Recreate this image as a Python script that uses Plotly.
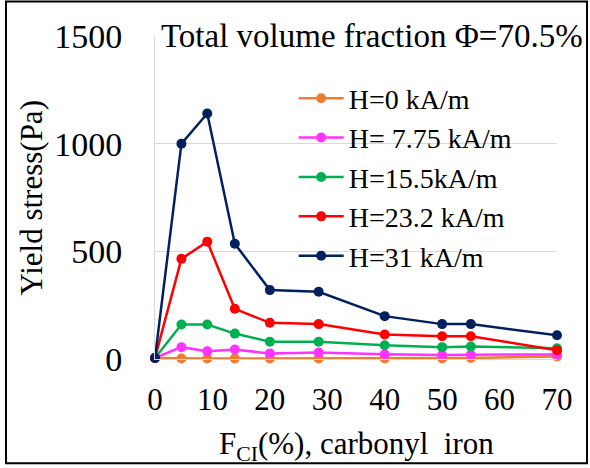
import plotly.graph_objects as go

# carbonyl iron fraction F_CI (%)
fci = [0, 4.6, 9.1, 13.9, 20, 28.5, 40, 50, 55, 70]

h0 = [5, 2, 2, 2, 2, 2, 3, 3, 5, 12]
h775 = [5, 55, 36, 44, 26, 30, 22, 18, 20, 21]
h155 = [5, 160, 160, 118, 80, 80, 64, 55, 58, 50]
h232 = [5, 465, 545, 233, 168, 162, 114, 106, 106, 41]
h31 = [5, 1000, 1140, 535, 320, 312, 199, 162, 162, 110]

series = [
    ("H=0 kA/m", h0, "#ED7D31"),
    ("H= 7.75 kA/m", h775, "#FF33FF"),
    ("H=15.5kA/m", h155, "#00B050"),
    ("H=23.2 kA/m", h232, "#FF0000"),
    ("H=31 kA/m", h31, "#002060"),
]

FONT = "Liberation Serif"

fig = go.Figure()
for name, vals, color in series:
    fig.add_trace(go.Scatter(
        x=fci, y=vals, mode="lines+markers", name=name,
        line=dict(color=color, width=2.5),
        marker=dict(color=color, size=10),
        cliponaxis=False,
    ))

fig.update_layout(
    width=590, height=468,
    margin=dict(l=155, r=33, t=36, b=108.5),
    paper_bgcolor="white", plot_bgcolor="white",
    font=dict(family=FONT, size=31, color="black"),
    showlegend=True,
    legend=dict(
        x=0.345, y=0.884, xanchor="left", yanchor="top",
        bgcolor="rgba(0,0,0,0)", font=dict(family=FONT, size=28),
        itemwidth=45, tracegroupgap=0,
    ),
    xaxis=dict(
        range=[0, 70], tickvals=[0, 10, 20, 30, 40, 50, 60, 70],
        showgrid=False, zeroline=False,
        showline=True, linecolor="#d9d9d9", linewidth=1,
        ticks="", ticklabelstandoff=13,
        tickfont=dict(family=FONT, size=31),
    ),
    yaxis=dict(
        range=[0, 1500], tickvals=[0, 500, 1000, 1500],
        showgrid=True, gridcolor="#d9d9d9", gridwidth=1,
        zeroline=False,
        showline=True, linecolor="#d9d9d9", linewidth=1,
        ticks="", ticklabelstandoff=25,
        tickfont=dict(family=FONT, size=34),
    ),
    annotations=[
        dict(text="Total volume fraction \u03a6=70.5%", xref="paper", yref="paper",
             x=0.012, y=1.0, xanchor="left", yanchor="middle", showarrow=False,
             bgcolor="white", font=dict(size=33), borderpad=0),
        dict(text="Yield stress(Pa)", xref="paper", yref="paper",
             x=-0.306, y=0.5, xanchor="center", yanchor="middle", showarrow=False,
             textangle=-90, font=dict(size=31)),
        dict(text="F<sub>CI</sub>(%), carbonyl  iron", xref="paper", yref="paper",
             x=0.5, y=-0.27, xanchor="center", yanchor="middle", showarrow=False,
             font=dict(size=31)),
    ],
    shapes=[
        dict(type="rect", xref="paper", yref="paper",
             x0=(6 - 155) / 402, x1=(587 - 155) / 402,
             y0=(359.5 - 464) / 323.5, y1=(359.5 - 1.5) / 323.5,
             line=dict(color="black", width=2), layer="above"),
    ],
)

# drop the page's default body margin so the figure sits at the window's corner
fig.write_html("out.html", config={"displayModeBar": False},
               post_script="document.body.style.margin='0';")
